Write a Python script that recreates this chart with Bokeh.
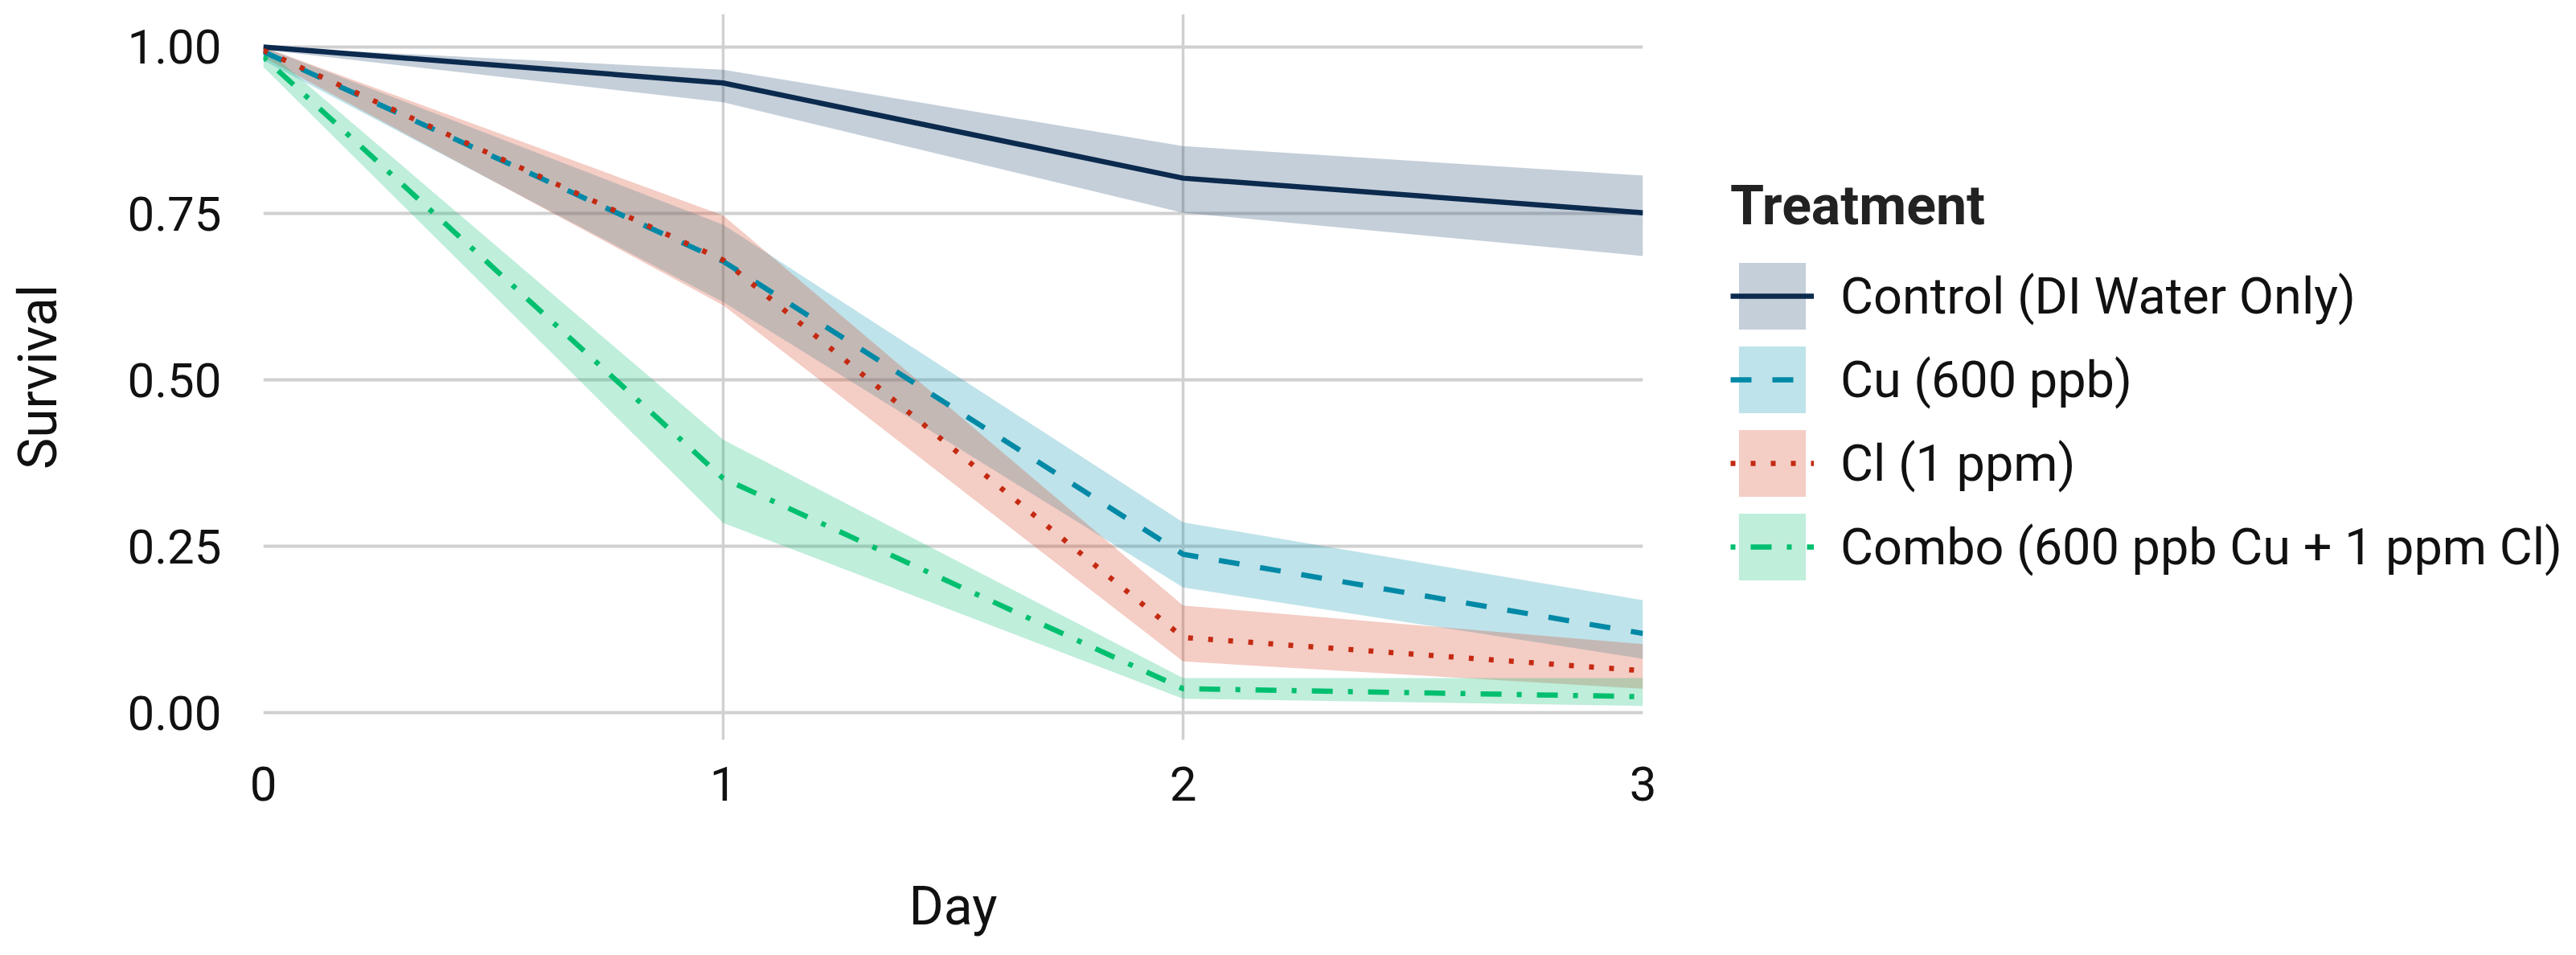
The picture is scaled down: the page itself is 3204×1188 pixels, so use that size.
from bokeh.plotting import figure
from bokeh.layouts import row
from bokeh.models import (ColumnDataSource, Legend, LegendItem, FixedTicker,
                          PrintfTickFormatter, Range1d)
from bokeh.embed import file_html
from bokeh.resources import INLINE

# ---- data ----
days = [0, 1, 2, 3]
treatments = ["Control (DI Water Only)", "Cu (600 ppb)", "Cl (1 ppm)",
              "Combo (600 ppb Cu + 1 ppm Cl)"]

control_mean = [1.000, 0.946, 0.803, 0.751]
control_lo = [0.996, 0.917, 0.751, 0.686]
control_hi = [1.000, 0.966, 0.851, 0.807]

cu_mean = [0.993, 0.678, 0.238, 0.119]
cu_lo = [0.980, 0.617, 0.188, 0.081]
cu_hi = [1.000, 0.733, 0.286, 0.169]

cl_mean = [0.995, 0.680, 0.113, 0.063]
cl_lo = [0.985, 0.612, 0.077, 0.036]
cl_hi = [1.000, 0.747, 0.161, 0.103]

combo_mean = [0.985, 0.352, 0.036, 0.024]
combo_lo = [0.970, 0.285, 0.021, 0.010]
combo_hi = [1.000, 0.410, 0.052, 0.052]

y_ticks = [0.0, 0.25, 0.50, 0.75, 1.00]
x_ticks = [0, 1, 2, 3]

# ---- styles ----
line_colors = ["#0b2a4e", "#0089a6", "#c42a12", "#00bf6f"]
fill_colors = ["#173f67", "#008fab", "#d33717", "#00bb6f"]
dashes = ["solid", "26 26", "6 19", "6 19 26 19"]
FONT = "Roboto"
TXT = "#111111"

series = [
    (control_mean, control_lo, control_hi),
    (cu_mean, cu_lo, cu_hi),
    (cl_mean, cl_lo, cl_hi),
    (combo_mean, combo_lo, combo_hi),
]

H = 1175
W1 = 2103
W2 = 3188 - W1
FL, FR, FT, FB = 327, 2043, 17, 920

p = figure(width=W1, height=H, output_backend="svg", toolbar_location=None,
           x_range=(0, 3), y_range=(-0.041, 1.0495),
           min_border_left=FL, min_border_right=W1 - FR,
           min_border_top=FT, min_border_bottom=H - FB)
p.outline_line_color = None
p.background_fill_color = "white"
p.border_fill_color = "white"

sources = [ColumnDataSource(dict(x=days, m=m, lo=lo, hi=hi)) for (m, lo, hi) in series]

for i, src in enumerate(sources):
    p.varea(x="x", y1="lo", y2="hi", source=src,
            fill_color=fill_colors[i], fill_alpha=0.25)
for i, src in enumerate(sources):
    p.line(x="x", y="m", source=src, line_color=line_colors[i],
           line_width=6.5, line_dash=dashes[i])

# axes
p.xaxis.ticker = FixedTicker(ticks=x_ticks)
p.yaxis.ticker = FixedTicker(ticks=y_ticks)
p.xaxis.formatter = PrintfTickFormatter(format="%d")
p.yaxis.formatter = PrintfTickFormatter(format="%.2f")
p.xaxis.axis_label = "Day"
p.yaxis.axis_label = "Survival"
for ax in (p.xaxis, p.yaxis):
    ax.axis_line_color = None
    ax.major_tick_line_color = None
    ax.minor_tick_line_color = None
    ax.major_tick_out = 0
    ax.major_tick_in = 0
    ax.major_label_text_font = FONT
    ax.major_label_text_font_size = "60px"
    ax.major_label_text_color = TXT
    ax.axis_label_text_font = FONT
    ax.axis_label_text_font_size = "66px"
    ax.axis_label_text_font_style = "normal"
    ax.axis_label_text_color = TXT
p.yaxis.major_label_standoff = 52
p.yaxis.axis_label_standoff = 70
p.xaxis.major_label_standoff = 33
p.xaxis.axis_label_standoff = 90

p.xgrid.ticker = FixedTicker(ticks=x_ticks)
p.ygrid.ticker = FixedTicker(ticks=y_ticks)
p.xgrid.grid_line_color = "#d0d0d0"
p.xgrid.grid_line_width = 3.5
p.ygrid.grid_line_color = "#d0d0d0"
p.ygrid.grid_line_width = 4
p.xgrid.minor_grid_line_color = None
p.ygrid.minor_grid_line_color = None

# legend panel (same sources, drawn out of view; only the legend shows)
q = figure(width=W2, height=H, output_backend="svg", toolbar_location=None,
           x_range=Range1d(100, 101), y_range=Range1d(100, 101),
           x_axis_location=None, y_axis_location=None,
           min_border=0)
q.outline_line_color = None
q.xgrid.visible = False
q.ygrid.visible = False
q.background_fill_color = "white"
q.border_fill_color = "white"

items = []
for i, src in enumerate(sources):
    b = q.varea(x="x", y1="lo", y2="hi", source=src,
                fill_color=fill_colors[i], fill_alpha=0.25)
    l = q.line(x="x", y="m", source=src, line_color=line_colors[i],
               line_width=6.5, line_dash=dashes[i])
    items.append(LegendItem(label=treatments[i], renderers=[b, l]))

legend = Legend(items=items, location=(2160 - 8 - W1, FB - 732),
                title="Treatment",
                title_text_font=FONT, title_text_font_style="bold",
                title_text_font_size="68px", title_text_color="#222222",
                title_standoff=20,
                label_text_font=FONT, label_text_font_size="63px",
                label_text_color=TXT, label_standoff=33,
                glyph_width=104, glyph_height=104, spacing=0,
                padding=0, margin=0,
                border_line_alpha=0, background_fill_alpha=0)
q.add_layout(legend, "center")

layout = row(p, q)
open("out.html", "w").write(file_html(layout, INLINE))
